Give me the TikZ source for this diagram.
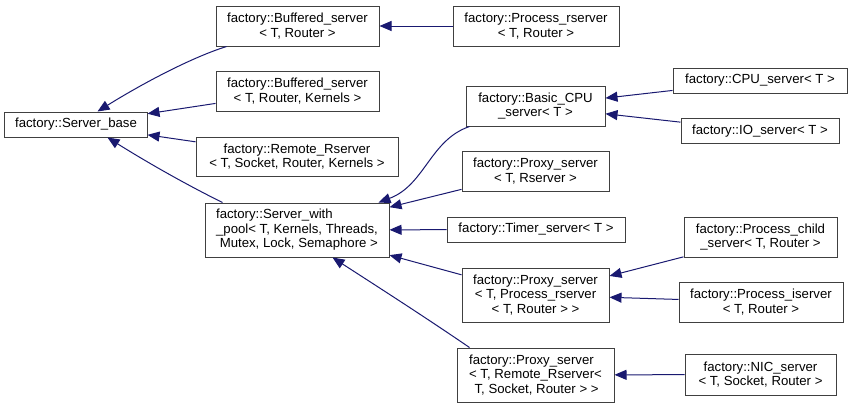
\documentclass[tikz,border=0pt]{standalone}
\usepackage{fontspec}
\setmainfont{Liberation Sans}
\usetikzlibrary{arrows.meta,calc}
\definecolor{edgeblue}{HTML}{191970}
\definecolor{boxline}{HTML}{404040}
\begin{document}
\begin{tikzpicture}[x=1bp,y=-1bp,
  cls/.style={draw=boxline, line width=1bp, fill=white, inner sep=0pt, align=center,
    font=\fontsize{13.2bp}{14.5bp}\selectfont},
  edge/.style={draw=edgeblue, line width=1bp, -{Triangle[length=12bp,width=10bp]}}]
\useasboundingbox (0,0) rectangle (853,409);
\node[cls, minimum width=142bp, minimum height=25bp] (base) at (76,124.5) {factory::Server\_base};
\node[cls, minimum width=163bp, minimum height=40bp] (buf) at (297.5,26) {factory::Buffered\_server\\< T, Router >};
\node[cls, minimum width=163bp, minimum height=40bp] (bufk) at (297.5,91) {factory::Buffered\_server\\< T, Router, Kernels >};
\node[cls, minimum width=202bp, minimum height=39bp] (remote) at (297,156.5) {factory::Remote\_Rserver\\< T, Socket, Router, Kernels >};
\node[cls, align=left, minimum width=184bp, minimum height=54bp] (swp) at (297,230) {factory::Server\_with\\\_pool< T, Kernels, Threads,\\\hspace*{3.7bp}Mutex, Lock, Semaphore >};
\node[cls, minimum width=166bp, minimum height=40bp] (prs) at (536,26) {factory::Process\_rserver\\< T, Router >};
\node[cls, minimum width=139bp, minimum height=40bp] (bcpu) at (535.5,106) {factory::Basic\_CPU\\\_server< T >};
\node[cls, minimum width=174bp, minimum height=25bp] (cpu) at (760,80.5) {factory::CPU\_server< T >};
\node[cls, minimum width=158bp, minimum height=25bp] (io) at (760,131) {factory::IO\_server< T >};
\node[cls, minimum width=147bp, minimum height=40bp] (prx) at (535.5,171) {factory::Proxy\_server\\< T, Rserver >};
\node[cls, minimum width=178bp, minimum height=25bp] (timer) at (536,229.5) {factory::Timer\_server< T >};
\node[cls, minimum width=153bp, minimum height=40bp] (pchild) at (760.5,237) {factory::Process\_child\\\_server< T, Router >};
\node[cls, minimum width=147bp, minimum height=54bp] (pxpr) at (535.5,295) {factory::Proxy\_server\\< T, Process\_rserver\\< T, Router > >};
\node[cls, minimum width=164bp, minimum height=40bp] (pis) at (761,302) {factory::Process\_iserver\\< T, Router >};
\node[cls, align=left, minimum width=157bp, minimum height=54bp] (pxrr) at (535.5,375) {factory::Proxy\_server\\< T, Remote\_Rserver<\\\hspace*{5.5bp}T, Socket, Router > >};
\node[cls, minimum width=151bp, minimum height=41bp] (nic) at (760.5,374.5) {factory::NIC\_server\\< T, Socket, Router >};

% edges to Server_base
\draw[edge] ($(buf.south west)+(11,0)$) .. controls (190,58) and (140,85) .. ($(base.north west)+(93,0)$);
\draw[edge] (bufk) -- (base);
\draw[edge] (remote) -- (base);
\draw[edge] ($(swp.north west)+(18,0)$) .. controls (185,184) and (145,161) .. ($(base.south west)+(103,0)$);
% to Buffered_server
\draw[edge] (prs) -- (buf);
% to Server_with_pool
\draw[edge] ($(bcpu.south west)+(4,0)$) .. controls (430,140) and (425,185) .. ($(swp.north east)+(-11,0)$);
\draw[edge] (prx) -- (swp);
\draw[edge] (timer) -- (swp);
\draw[edge] (pxpr) -- (swp);
\draw[edge] ($(pxrr.north west)+(13,0)$) .. controls (425,317) and (375,285) .. ($(swp.south west)+(128,0)$);
% to Basic_CPU
\draw[edge] (cpu) -- (bcpu);
\draw[edge] (io) -- (bcpu);
% to Proxy<Process_rserver>
\draw[edge] (pchild) -- (pxpr);
\draw[edge] (pis) -- (pxpr);
% to Proxy<Remote_Rserver>
\draw[edge] (nic) -- (pxrr);
\end{tikzpicture}
\end{document}
